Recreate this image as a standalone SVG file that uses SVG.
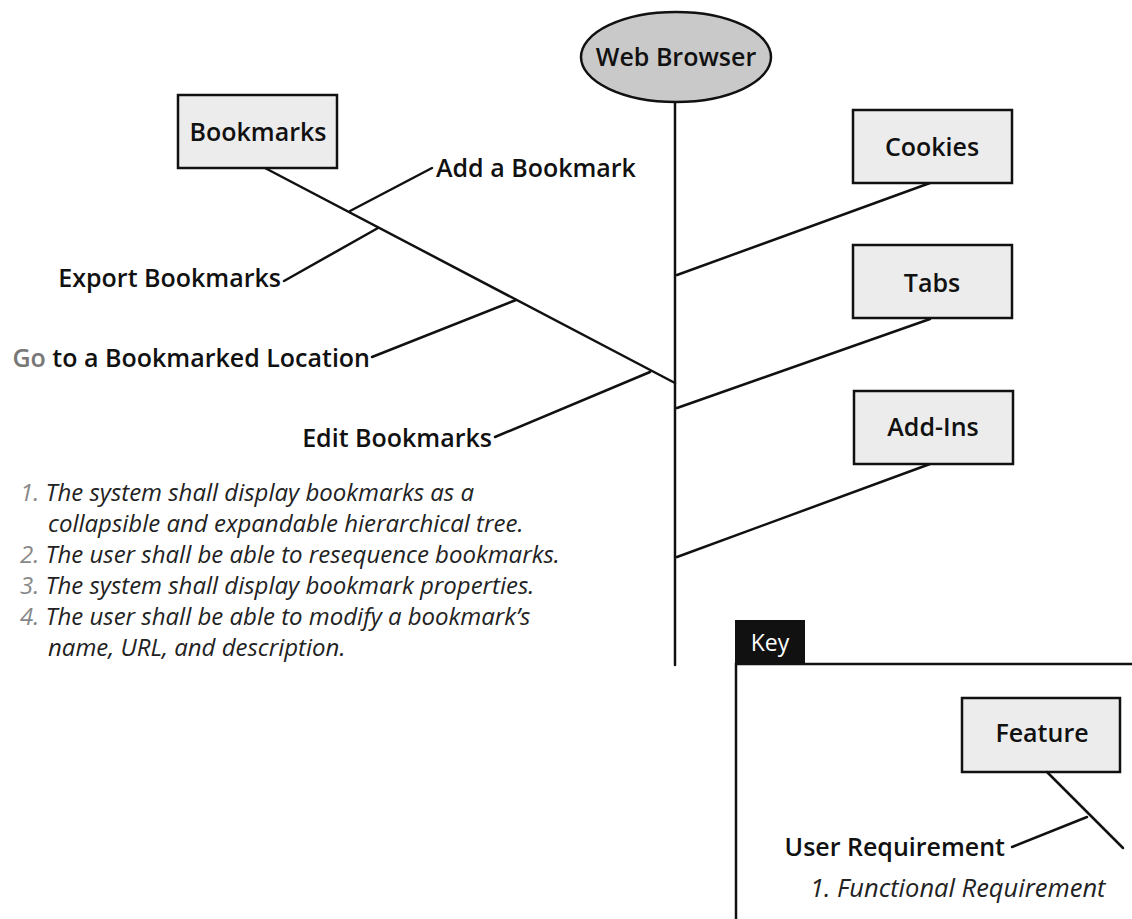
<svg xmlns="http://www.w3.org/2000/svg" width="1132" height="919" viewBox="0 0 1132 919">
<style>
.lbl{font-family:"Open Sans","Liberation Sans",sans-serif;font-weight:600;font-size:25px;fill:#111}
.it{font-family:"Open Sans","Liberation Sans",sans-serif;font-style:italic;font-size:24px;fill:#222}
.num{fill:#888}
.box{fill:#ececec;stroke:#111;stroke-width:2.5}
.ln{stroke:#111;stroke-width:2.5;fill:none;stroke-linecap:round}
</style>
<rect width="1132" height="919" fill="#fff"/>
<g id="connectors">
<line class="ln" x1="675" y1="102" x2="675" y2="665"/>
<line class="ln" x1="265" y1="168" x2="675" y2="383"/>
<line class="ln" x1="350" y1="211" x2="432" y2="168"/>
<line class="ln" x1="284" y1="281" x2="378" y2="228"/>
<line class="ln" x1="372" y1="357" x2="516" y2="300"/>
<line class="ln" x1="495" y1="437" x2="650" y2="372"/>
<line class="ln" x1="930" y1="183" x2="677" y2="275"/>
<line class="ln" x1="930" y1="319" x2="677" y2="408"/>
<line class="ln" x1="930" y1="464" x2="677" y2="557"/>
</g>
<g id="web-browser">
<ellipse cx="676" cy="57" rx="95" ry="45" fill="#c9c9c9" stroke="#111" stroke-width="2.5"/>
<text class="lbl" x="676" y="66" text-anchor="middle">Web Browser</text>
</g>
<g id="bookmarks">
<rect class="box" x="178" y="95" width="159" height="73"/>
<text class="lbl" x="258" y="141" text-anchor="middle">Bookmarks</text>
</g>
<g id="add-bookmark"><text class="lbl" x="436" y="177">Add a Bookmark</text></g>
<g id="export-bookmarks"><text class="lbl" x="281" y="287" text-anchor="end">Export Bookmarks</text></g>
<g id="go-to-bookmark"><text class="lbl" x="370" y="367" text-anchor="end"><tspan fill="#777">Go</tspan> to a Bookmarked Location</text></g>
<g id="edit-bookmarks"><text class="lbl" x="492" y="447" text-anchor="end">Edit Bookmarks</text></g>
<g id="cookies">
<rect class="box" x="853" y="110" width="159" height="73"/>
<text class="lbl" x="932" y="156" text-anchor="middle">Cookies</text>
</g>
<g id="tabs">
<rect class="box" x="853" y="245" width="159" height="73"/>
<text class="lbl" x="932" y="292" text-anchor="middle">Tabs</text>
</g>
<g id="add-ins">
<rect class="box" x="854" y="391" width="159" height="73"/>
<text class="lbl" x="933" y="436" text-anchor="middle">Add-Ins</text>
</g>
<g id="requirements">
<text class="it" x="20" y="501"><tspan class="num">1.</tspan> The system shall display bookmarks as a</text>
<text class="it" x="48" y="532">collapsible and expandable hierarchical tree.</text>
<text class="it" x="20" y="563"><tspan class="num">2.</tspan> The user shall be able to resequence bookmarks.</text>
<text class="it" x="20" y="594"><tspan class="num">3.</tspan> The system shall display bookmark properties.</text>
<text class="it" x="20" y="625"><tspan class="num">4.</tspan> The user shall be able to modify a bookmark’s</text>
<text class="it" x="48" y="656">name, URL, and description.</text>
</g>
<g id="key">
<rect x="735" y="620" width="70" height="45" fill="#111"/>
<text x="770" y="651" text-anchor="middle" style="font-family:'Open Sans','Liberation Sans',sans-serif;font-size:23px;fill:#fff">Key</text>
<path class="ln" d="M736 919 V664 H1134" stroke-linecap="butt"/>
<rect class="box" x="962" y="698" width="158" height="74"/>
<text class="lbl" x="1042" y="742" text-anchor="middle">Feature</text>
<line class="ln" x1="1047" y1="772" x2="1123" y2="848"/>
<line class="ln" x1="1012" y1="847" x2="1087" y2="817"/>
<text class="lbl" x="1005" y="856" text-anchor="end">User Requirement</text>
<text class="it" x="810" y="897" style="font-size:25.5px">1. Functional Requirement</text>
</g>
</svg>
